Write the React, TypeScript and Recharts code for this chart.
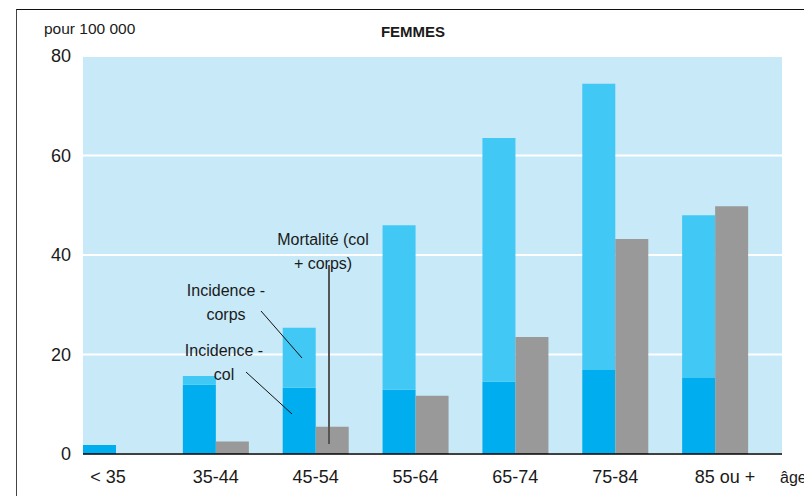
import React from 'react';
import { BarChart, Bar, XAxis, YAxis, CartesianGrid } from 'recharts';

const categories = ['< 35', '35-44', '45-54', '55-64', '65-74', '75-84', '85 ou +'];
const incidenceCol = [1.8, 13.9, 13.3, 12.9, 14.5, 16.9, 15.3];
const incidenceCorps = [0, 1.8, 12.1, 33.1, 49.0, 57.5, 32.7];
const mortalite = [0, 2.5, 5.5, 11.7, 23.5, 43.2, 49.8];
const yTicks = [0, 20, 40, 60, 80];

const data = categories.map((c, i) => ({
  age: c,
  col: incidenceCol[i],
  corps: incidenceCorps[i],
  mort: mortalite[i],
  spacer: 0,
}));

const TEXT = '#1a1a1a';

const AgeTick = (props: any) => {
  const { x, y, payload, index } = props;
  const nudge = index === 0 ? -8 : index === 6 ? 10 : 0;
  return (
    <text x={x - 17 + nudge} y={y} dy="0.71em" textAnchor="middle" fontSize={18} fill={TEXT}>
      {payload.value}
    </text>
  );
};

export default function App() {
  return (
    <div
      style={{
        position: 'absolute',
        left: 0,
        top: 0,
        width: 804,
        height: 496,
        overflow: 'hidden',
        background: '#fff',
        fontFamily: '"Liberation Sans", Arial, Helvetica, sans-serif',
      }}
    >
      <div
        style={{
          position: 'absolute',
          left: 16,
          top: 9,
          width: 900,
          height: 600,
          borderLeft: '1.5px solid #444',
          borderTop: '1.5px solid #111',
        }}
      />
      <div style={{ position: 'absolute', left: 0, top: 0 }}>
        <BarChart
          width={804}
          height={496}
          data={data}
          margin={{ top: 56, right: 22, bottom: 12, left: 0 }}
          barCategoryGap={0}
          barGap={0}
        >
          <CartesianGrid vertical={false} stroke="#ffffff" strokeWidth={2} fill="#C7E9F8" />
          <XAxis
            dataKey="age"
            height={30}
            axisLine={{ stroke: '#000', strokeWidth: 1.5 }}
            tickLine={false}
            tickSize={0}
            tickMargin={16}
            tick={<AgeTick />}
            interval={0}
          />
          <YAxis
            width={83}
            domain={[0, 80]}
            ticks={yTicks}
            axisLine={false}
            tickLine={false}
            tickSize={0}
            tickMargin={12}
            tick={{ fontSize: 18, fill: TEXT }}
            interval={0}
          />
          <Bar dataKey="col" stackId="a" fill="#00AEEF" isAnimationActive={false} />
          <Bar dataKey="corps" stackId="a" fill="#41C8F5" isAnimationActive={false} />
          <Bar dataKey="mort" fill="#999999" isAnimationActive={false} />
          <Bar dataKey="spacer" fill="transparent" isAnimationActive={false} />
        </BarChart>
      </div>
      <svg
        width={804}
        height={496}
        style={{ position: 'absolute', left: 0, top: 0, pointerEvents: 'none' }}
      >
        <text x={44} y={34} fontSize={15.5} fill={TEXT}>
          pour 100 000
        </text>
        <text x={413} y={37} fontSize={15} fontWeight="bold" textAnchor="middle" fill={TEXT}>
          FEMMES
        </text>
        <text x={780} y={483} fontSize={16} fill={TEXT}>
          âge
        </text>
        <line x1={329} y1={265} x2={329} y2={444} stroke="#555" strokeWidth={2} />
        <line x1={261} y1={311} x2={302} y2={358} stroke="#111" strokeWidth={1} />
        <line x1={246} y1={372} x2={292} y2={414} stroke="#111" strokeWidth={1} />
        <g fontSize={16} fill={TEXT} textAnchor="middle">
          <text x={323} y={239} dy="0.35em">Mortalité (col</text>
          <text x={323} y={263} dy="0.35em">+ corps)</text>
          <text x={226} y={290} dy="0.35em">Incidence -</text>
          <text x={226} y={314} dy="0.35em">corps</text>
          <text x={224} y={350} dy="0.35em">Incidence -</text>
          <text x={224} y={374} dy="0.35em">col</text>
        </g>
      </svg>
    </div>
  );
}
